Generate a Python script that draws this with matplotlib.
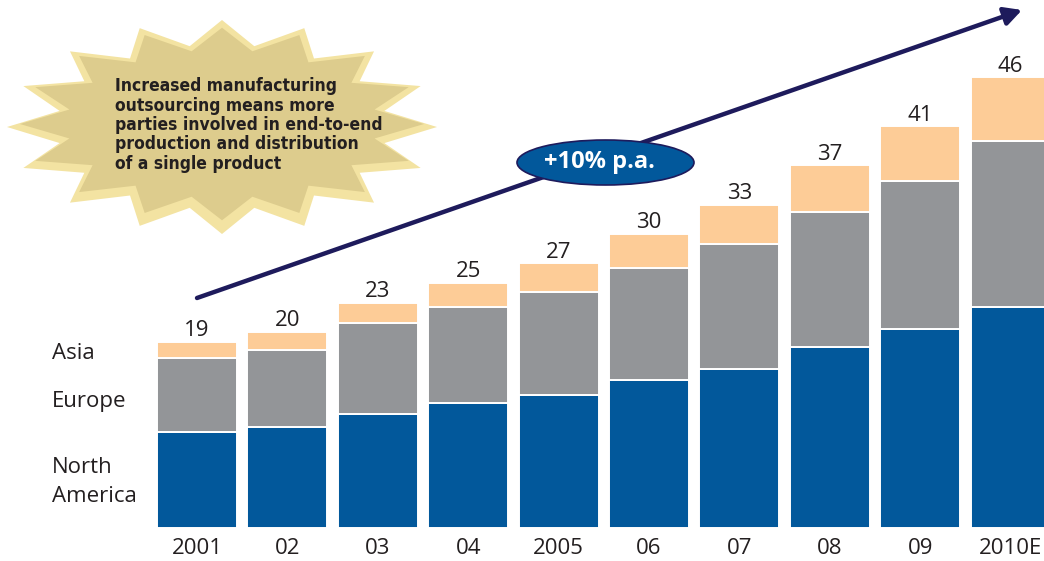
import numpy as np
import matplotlib
matplotlib.use("Agg")
import matplotlib.pyplot as plt
from matplotlib.patches import Polygon, Ellipse, FancyArrowPatch

# Parties involved in end-to-end production, by region
years = ["2001", "02", "03", "04", "2005", "06", "07", "08", "09", "2010E"]
north_america = [9.8, 10.3, 11.6, 12.8, 13.6, 15.15, 16.25, 18.5, 20.35, 22.6]
europe = [7.55, 7.9, 9.35, 9.75, 10.45, 11.4, 12.7, 13.75, 15.05, 16.85]
asia = [1.65, 1.8, 2.05, 2.45, 2.95, 3.45, 4.05, 4.75, 5.6, 6.55]
totals = [19, 20, 23, 25, 27, 30, 33, 37, 41, 46]
regions = ["Asia", "Europe", "North\nAmerica"]
callout = ("Increased manufacturing\noutsourcing means more\n"
           "parties involved in end-to-end\nproduction and distribution\n"
           "of a single product")
growth = "+10% p.a."

BLUE = "#02589b"
GRAY = "#939598"
PEACH = "#fdcc97"
NAVY = "#1e1b5c"
TEXT = "#231f20"
FONT = ["Open Sans", "DejaVu Sans"]

W, H = 1044, 561
fig = plt.figure(figsize=(W / 100, H / 100), dpi=100)

# Data axes spanning the whole canvas
ax = fig.add_axes([0, 0, 1, 1])
x0_px, step_px = 197.0, 90.4
base_px, unit_px = 528.0, 9.8
ax.set_xlim(-x0_px / step_px, (W - x0_px) / step_px)
ax.set_ylim(-(H - base_px) / unit_px, base_px / unit_px)
ax.axis("off")

x = np.arange(len(years))
na = np.array(north_america)
eu = np.array(europe)
asi = np.array(asia)
bw = 0.885
kw = dict(width=bw, edgecolor="white", linewidth=1.4, zorder=2)
ax.bar(x, na, color=BLUE, **kw)
ax.bar(x, eu, bottom=na, color=GRAY, **kw)
ax.bar(x, asi, bottom=na + eu, color=PEACH, **kw)

for xi, tot in zip(x, totals):
    ax.annotate(str(tot), (xi, tot), xytext=(0, 4), textcoords="offset points",
                ha="center", va="baseline", fontsize=16, color=TEXT,
                family=FONT, zorder=5)

for xi, lab in zip(x, years):
    ax.annotate(lab, (xi, 0), xytext=(0, -14.5), textcoords="offset points",
                ha="center", va="center", fontsize=16, color=TEXT,
                family=FONT)

# Overlay in pixel coordinates for the decorations
ov = fig.add_axes([0, 0, 1, 1], facecolor="none")
ov.set_xlim(0, W)
ov.set_ylim(H, 0)
ov.axis("off")

# Region labels on the left
ov.text(52, 353, regions[0], fontsize=16, color=TEXT, family=FONT, va="center", ha="left")
ov.text(52, 401, regions[1], fontsize=16, color=TEXT, family=FONT, va="center", ha="left")
ov.text(52, 482, regions[2], fontsize=16, color=TEXT, family=FONT, va="center", ha="left",
        linespacing=1.45)

# Starburst callout
cx, cy, rx, ry = 222.0, 127.0, 215.0, 107.0
n = 16
ang = np.pi / 2 + np.arange(2 * n) * np.pi / n
r = np.where(np.arange(2 * n) % 2 == 0, 1.0, 0.77)
outer = np.column_stack([cx + rx * r * np.cos(ang), cy - ry * r * np.sin(ang)])
ov.add_patch(Polygon(outer, closed=True, facecolor="#f3e3a2", edgecolor="none", zorder=3))
inner = np.column_stack([cx + 0.94 * rx * r * np.cos(ang), cy - 3 - 0.9 * ry * r * np.sin(ang)])
ov.add_patch(Polygon(inner, closed=True, facecolor="#ddcc8d", edgecolor="none", zorder=3))
ov.text(115, 125, callout, fontsize=12.5, fontweight="bold", color=TEXT,
        family="DejaVu Sans", fontstretch="condensed", ha="left", va="center",
        linespacing=1.1, zorder=4)

# Trend arrow
ov.add_patch(FancyArrowPatch((197, 298), (1022, 10), arrowstyle="-|>,head_length=8,head_width=4.2",
                             mutation_scale=1.3, color=NAVY, linewidth=3.2, zorder=4,
                             shrinkA=0, shrinkB=0))

# Growth-rate badge
ov.add_patch(Ellipse((605.5, 162.5), 177, 45, facecolor=BLUE, edgecolor=NAVY,
                     linewidth=1.2, zorder=5))
ov.text(599, 162, growth, fontsize=17, fontweight="bold", color="white",
        family=FONT, ha="center", va="center", zorder=6)

fig.savefig("out.png", dpi=100)
